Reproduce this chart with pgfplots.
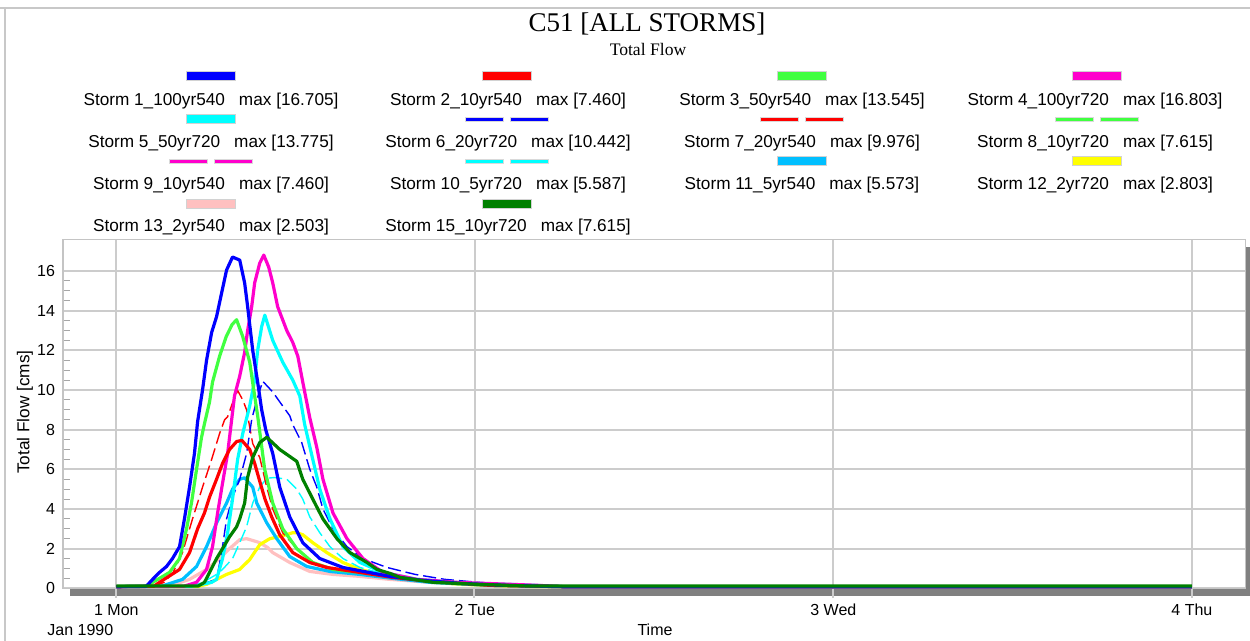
\documentclass[border=0pt]{standalone}
\usepackage{fontspec}
\setmainfont{Liberation Sans}
\newfontfamily\seriffont{Liberation Serif}
\usepackage{pgfplots}
\usepackage{pgfplotstable}
\pgfplotsset{compat=1.18}

\definecolor{cBlue}{HTML}{0000FF}
\definecolor{cRed}{HTML}{FF0000}
\definecolor{cGreen}{HTML}{40FF40}
\definecolor{cMag}{HTML}{FF00CC}
\definecolor{cCyan}{HTML}{00FFFF}
\definecolor{cSky}{HTML}{00BFFF}
\definecolor{cYel}{HTML}{FFFF00}
\definecolor{cPink}{HTML}{FFC0C0}
\definecolor{cDkGreen}{HTML}{008000}
\definecolor{gridc}{HTML}{CCCCCC}
\definecolor{borderc}{HTML}{C4C4C4}
\definecolor{shadowc}{HTML}{808080}
\definecolor{framec}{HTML}{C8C8C8}

% Storm 1_100yr540
\pgfplotstableread{
h v
0 0.08
2.0 0.1
2.43 0.45
2.89 0.8
3.36 1.1
3.76 1.5
4.23 2.1
4.56 3.5
4.90 5.1
5.23 6.8
5.44 8.4
5.77 10.0
6.04 11.5
6.38 12.9
6.71 13.7
7.05 14.9
7.38 16.05
7.78 16.705
8.26 16.55
8.59 15.4
8.79 14.2
9.13 12.0
9.46 10.4
9.73 9.0
10.0 8.0
10.47 6.8
10.94 5.1
11.61 3.6
12.48 2.3
13.62 1.5
15.17 1.05
18.32 0.6
20.5 0.4
23 0.25
26 0.15
30 0.08
72 0.08
}\stormA
% Storm 2_10yr540 (also Storm 9)
\pgfplotstableread{
h v
0 0.08
2.5 0.1
2.89 0.3
4.23 0.95
4.90 1.8
5.44 3.0
5.90 3.8
6.24 4.6
6.71 5.5
7.11 6.3
7.58 7.0
8.05 7.4
8.40 7.46
8.93 7.0
9.26 6.3
9.60 5.4
9.95 4.5
10.40 3.6
10.94 2.7
11.81 1.8
12.95 1.3
14.09 1.05
16.31 0.8
18.5 0.55
21 0.35
25 0.15
30 0.08
72 0.08
}\stormB
% Storm 3_50yr540
\pgfplotstableread{
h v
0 0.08
2.2 0.1
2.43 0.3
3.56 0.8
4.23 1.5
4.70 3.0
5.03 4.3
5.37 6.0
5.70 7.6
5.90 8.3
6.24 9.4
6.44 10.4
6.91 11.7
7.36 12.7
7.75 13.3
8.05 13.545
8.46 12.7
8.93 11.4
9.20 10.0
9.46 8.7
9.93 6.0
10.47 4.3
11.14 3.0
12.08 2.0
13.15 1.3
14.50 0.95
16.31 0.8
18.3 0.6
21 0.35
25 0.15
30 0.08
72 0.08
}\stormC
% Storm 4_100yr720
\pgfplotstableread{
h v
0 0.08
4.5 0.1
5.37 0.3
6.04 0.95
6.44 2.1
6.78 3.8
7.11 5.3
7.45 6.8
7.72 8.5
7.91 9.7
8.26 10.7
8.59 11.9
8.79 13.0
9.06 14.2
9.26 15.4
9.60 16.4
9.87 16.803
10.20 16.2
10.47 15.4
10.80 14.2
11.41 13.0
11.81 12.4
12.15 11.7
12.48 10.4
12.95 8.6
13.42 7.1
13.83 5.5
14.50 3.8
15.44 2.5
16.51 1.5
17.85 0.8
20.13 0.45
22.82 0.3
28.19 0.15
30 0.08
72 0.08
}\stormD
% Storm 5_50yr720
\pgfplotstableread{
h v
0 0.08
5.0 0.1
6.38 0.3
6.71 0.45
7.11 1.5
7.45 2.8
7.78 4.5
8.12 6.5
8.46 7.8
8.93 9.2
9.26 10.5
9.46 12.0
9.73 13.2
9.94 13.775
10.47 12.5
11.14 11.4
11.81 10.5
12.28 9.7
12.61 8.25
13.15 6.5
13.62 5.0
14.30 3.5
15.17 2.1
16.31 1.3
17.85 0.8
20.13 0.45
23 0.28
28 0.15
30 0.08
72 0.08
}\stormE
% Storm 6_20yr720
\pgfplotstableread{
h v
0 0.08
5.0 0.1
5.7 0.2
6.71 0.45
7.05 1.8
7.38 3.5
7.78 4.6
8.26 5.5
8.72 6.8
9.06 8.5
9.40 9.5
9.80 10.442
10.47 9.9
10.94 9.4
11.61 8.7
11.81 8.25
12.41 7.35
12.95 6.0
13.42 5.1
13.83 4.0
14.50 3.0
15.44 2.1
16.51 1.5
18.12 1.05
20 0.7
22 0.45
25 0.25
28 0.12
30 0.08
72 0.08
}\stormF
% Storm 7_20yr540
\pgfplotstableread{
h v
0 0.08
2.5 0.1
3.2 0.3
3.8 0.8
4.43 1.8
5.10 3.5
5.77 5.1
6.38 6.5
6.91 7.8
7.25 8.5
7.45 8.65
7.78 9.35
8.12 9.976
8.46 9.5
8.72 9.0
9.13 7.3
9.60 6.6
10.07 5.1
10.47 4.0
11.14 2.8
12.08 2.0
13.15 1.3
14.77 0.95
17 0.7
20 0.45
24 0.2
30 0.08
72 0.08
}\stormG
% Storm 10_5yr720
\pgfplotstableread{
h v
0 0.08
5.0 0.1
5.8 0.3
6.71 0.7
7.11 0.95
7.78 1.5
8.26 2.3
8.72 3.1
9.13 4.3
9.60 5.1
10.07 5.55
10.60 5.587
11.41 5.5
12.08 5.0
12.48 4.5
12.95 3.6
13.62 2.8
14.30 2.1
15.17 1.5
16.31 1.05
18 0.7
20 0.45
23 0.25
27 0.12
30 0.08
72 0.08
}\stormJ
% Storm 11_5yr540
\pgfplotstableread{
h v
0 0.08
3.0 0.1
4.43 0.45
5.37 1.1
6.04 2.1
6.71 3.3
7.38 4.3
7.78 5.0
8.26 5.5
8.59 5.573
9.13 5.1
9.40 4.3
10.07 3.3
10.74 2.5
11.61 1.6
12.75 1.1
14.30 0.85
16.31 0.7
18.5 0.5
21 0.3
25 0.15
30 0.08
72 0.08
}\stormK
% Storm 12_2yr720
\pgfplotstableread{
h v
0 0.08
5.5 0.1
6.04 0.2
6.71 0.45
7.38 0.7
8.26 0.95
8.93 1.45
9.60 2.2
10.27 2.5
11.14 2.65
11.81 2.803
12.08 2.8
12.48 2.7
13.15 2.3
14.09 1.8
15.17 1.3
16.31 0.95
18.32 0.6
20 0.4
23 0.2
27 0.1
30 0.08
72 0.08
}\stormL
% Storm 13_2yr540
\pgfplotstableread{
h v
0 0.08
3.5 0.1
4.90 0.45
6.04 0.95
6.91 1.5
7.58 2.0
8.26 2.45
8.72 2.503
9.40 2.35
9.60 2.3
10.14 2.05
10.47 1.8
11.61 1.3
12.95 0.85
14.50 0.7
16.31 0.6
18.3 0.45
21 0.3
25 0.15
30 0.08
72 0.08
}\stormM
% Storm 15_10yr720 (also Storm 8)
\pgfplotstableread{
h v
0 0.12
5.5 0.12
5.90 0.3
6.24 0.8
6.71 1.5
7.11 2.0
7.58 2.6
8.05 3.1
8.26 3.5
8.59 4.3
8.79 5.6
9.13 6.6
9.60 7.35
10.07 7.615
10.94 7.0
12.08 6.4
12.48 5.5
13.15 4.5
13.83 3.5
14.77 2.5
15.64 1.8
16.78 1.3
17.45 0.95
18.32 0.75
19.0 0.55
21.2 0.3
24.2 0.2
27.4 0.12
72 0.12
}\stormO

\newcommand\legfont{\fontsize{8.6}{10}\selectfont}
\newcommand\solidsw[3]{\fill[#3, draw=gray!35, line width=0.4pt] ({#1-24.5},{#2-4.5}) rectangle ({#1+24.5},{#2+4.5});}
\newcommand\dashsw[3]{%
  \fill[#3, draw=gray!30, line width=0.3pt] ({#1-41.5},{#2-2}) rectangle ({#1-3.5},{#2+2});
  \fill[#3, draw=gray!30, line width=0.3pt] ({#1+3.5},{#2-2}) rectangle ({#1+41.5},{#2+2});}
\newcommand\legtext[3]{\node[anchor=base, inner sep=0pt, font=\legfont] at (#1,#2) {#3};}

\begin{document}
\begin{tikzpicture}
\path[use as bounding box] (0,0) rectangle (625pt,-320.5pt);

\begin{scope}[x=0.5pt,y=-0.5pt]
  % outer frame
  \draw[framec, line width=1pt] (0,8) -- (1250,8);
  \draw[framec, line width=1pt] (5,8) -- (5,641);
  % shadow of plot area
  \fill[shadowc] (70,588.6) rectangle (1250,596.5);
  \fill[shadowc] (1246,247) rectangle (1250,596.5);
  % titles
  \node[anchor=base, inner sep=0pt, font=\seriffont\fontsize{13.5}{16}\selectfont] at (647,32) {C51 [ALL STORMS]};
  \node[anchor=base, inner sep=0pt, font=\seriffont\fontsize{8.8}{10}\selectfont] at (648,55.5) {Total Flow};
  % legend row 1
  \solidsw{211}{76.3}{cBlue}   \legtext{211}{106}{Storm 1\_100yr540\hspace{7pt}max [16.705]}
  \solidsw{507}{76.3}{cRed}    \legtext{508}{106}{Storm 2\_10yr540\hspace{7pt}max [7.460]}
  \solidsw{802}{76.3}{cGreen}  \legtext{802}{106}{Storm 3\_50yr540\hspace{7pt}max [13.545]}
  \solidsw{1097}{76.3}{cMag}   \legtext{1095}{106}{Storm 4\_100yr720\hspace{7pt}max [16.803]}
  % row 2
  \solidsw{211}{119}{cCyan}    \legtext{211}{148}{Storm 5\_50yr720\hspace{7pt}max [13.775]}
  \dashsw{507}{119}{cBlue}     \legtext{508}{148}{Storm 6\_20yr720\hspace{7pt}max [10.442]}
  \dashsw{802}{119}{cRed}      \legtext{802}{148}{Storm 7\_20yr540\hspace{7pt}max [9.976]}
  \dashsw{1097}{119}{cGreen}   \legtext{1095}{148}{Storm 8\_10yr720\hspace{7pt}max [7.615]}
  % row 3
  \dashsw{211}{161.3}{cMag}    \legtext{211}{190}{Storm 9\_10yr540\hspace{7pt}max [7.460]}
  \dashsw{507}{161.3}{cCyan}   \legtext{508}{190}{Storm 10\_5yr720\hspace{7pt}max [5.587]}
  \solidsw{802}{161.3}{cSky}   \legtext{802}{190}{Storm 11\_5yr540\hspace{7pt}max [5.573]}
  \solidsw{1097}{161.3}{cYel}  \legtext{1095}{190}{Storm 12\_2yr720\hspace{7pt}max [2.803]}
  % row 4
  \solidsw{211}{204}{cPink}    \legtext{211}{231.5}{Storm 13\_2yr540\hspace{7pt}max [2.503]}
  \solidsw{507}{204}{cDkGreen} \legtext{508}{231.5}{Storm 15\_10yr720\hspace{7pt}max [7.615]}
  % axis texts
  \node[rotate=90, inner sep=0pt, font=\legfont] at (25,412) {Total Flow [cms]};
  \node[anchor=base west, inner sep=0pt, font=\fontsize{8}{9.6}\selectfont] at (47,635.5) {Jan 1990};
  \node[anchor=base, inner sep=0pt, font=\fontsize{8}{9.6}\selectfont] at (655,636) {Time};
\end{scope}

\begin{axis}[
  at={(31.5pt,-294.15pt)}, anchor=south west,
  scale only axis, width=591.35pt, height=174.5pt,
  xmin=-3.57, xmax=75.6, ymin=0, ymax=17.6,
  xtick={0,24,48,72}, xticklabels={1 Mon,2 Tue,3 Wed,4 Thu},
  ytick={0,2,...,16}, minor y tick num=3,
  grid=major, major grid style={draw=gridc, line width=0.9pt},
  axis line style={draw=borderc, line width=0.6pt},
  tick pos=left, tick align=inside,
  major tick length=0pt, minor tick length=3.5pt,
  minor tick style={draw=gray!70, line width=0.5pt},
  tick label style={font=\fontsize{8}{9.6}\selectfont},
  /pgf/number format/assume math mode=true,
  yticklabel style={xshift=-0.5pt},
  xticklabel style={yshift=-4.5pt},
  no markers,
  every axis plot/.append style={line join=round},
  thick line/.style={line width=1.6pt},
  thin dash/.style={line width=0.7pt, dash pattern=on 6.5pt off 2.5pt},
]
\addplot[cMag, thin dash] table[x=h,y=v] {\stormB};
\addplot[cGreen, thin dash] table[x=h,y=v] {\stormO};
\addplot[cPink, thick line] table[x=h,y=v] {\stormM};
\addplot[cYel, thick line] table[x=h,y=v] {\stormL};
\addplot[cSky, thick line] table[x=h,y=v] {\stormK};
\addplot[cCyan, thin dash] table[x=h,y=v] {\stormJ};
\addplot[cRed, thin dash] table[x=h,y=v] {\stormG};
\addplot[cBlue, thin dash] table[x=h,y=v] {\stormF};
\addplot[cCyan, thick line] table[x=h,y=v] {\stormE};
\addplot[cMag, thick line] table[x=h,y=v] {\stormD};
\addplot[cGreen, thick line] table[x=h,y=v] {\stormC};
\addplot[cRed, thick line] table[x=h,y=v] {\stormB};
\addplot[cBlue, thick line] table[x=h,y=v] {\stormA};
\addplot[cDkGreen, thick line] table[x=h,y=v] {\stormO};
\end{axis}

\begin{scope}[x=0.5pt,y=-0.5pt]
  \foreach \xx in {116.3,474.3,833.1,1191.9}{
    \draw[gridc, line width=0.9pt] (\xx,588.6) -- (\xx,598.5);
  }
\end{scope}
\end{tikzpicture}
\end{document}
